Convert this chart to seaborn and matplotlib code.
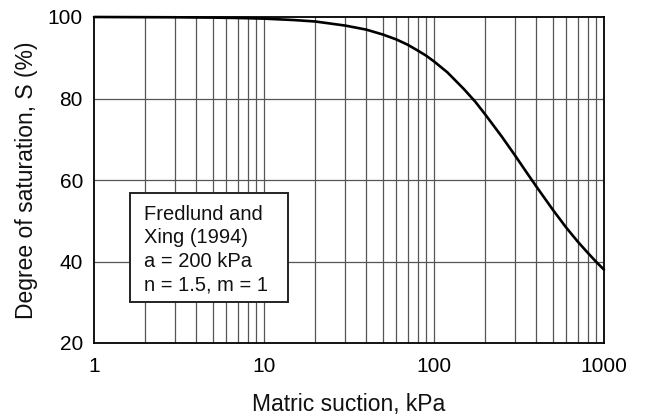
import matplotlib
matplotlib.use("Agg")
import matplotlib.pyplot as plt
import seaborn as sns
import pandas as pd
from matplotlib.patches import Rectangle
from matplotlib.ticker import FixedLocator, NullFormatter

# Values
suction_kpa = [1, 3, 5, 7, 10, 15, 20, 30, 40, 50, 60, 70, 80, 90, 100, 120, 150,
               175, 200, 250, 300, 350, 400, 500, 600, 700, 800, 900, 1000]
saturation_pct = [100.0, 99.93, 99.85, 99.76, 99.6, 99.25, 98.9, 97.9, 96.9, 95.7,
                  94.5, 93.2, 91.8, 90.5, 89.1, 86.4, 82.3, 79.2, 76.1, 70.7, 66.0,
                  61.9, 58.4, 52.7, 48.3, 44.9, 42.2, 39.9, 38.0]
x_tick_labels = ["1", "10", "100", "1000"]
y_ticks = [20, 40, 60, 80, 100]
box_text = "Fredlund and\nXing (1994)\na = 200 kPa\nn = 1.5, m = 1"

sns.set_theme(style="white")
plt.rcParams["font.family"] = ["Liberation Sans", "DejaVu Sans"]

fig = plt.figure(figsize=(6.45, 4.16), dpi=100)
ax = fig.add_axes([94 / 645, 1 - 343 / 416, 510 / 645, 326 / 416])

df = pd.DataFrame({"suction": suction_kpa, "S": saturation_pct})

ax.set_xscale("log")
ax.set_xlim(1, 1000)
ax.set_ylim(20, 100)

# grid
grid_kw = dict(color="#555555", linewidth=0.9, zorder=1)
minors = [m * 10 ** d for d in range(0, 3) for m in range(2, 10)]
for xv in minors + [10, 100]:
    ax.axvline(xv, **grid_kw)
for yv in [40, 60, 80]:
    ax.axhline(yv, **grid_kw)

sns.lineplot(data=df, x="suction", y="S", ax=ax, color="black", linewidth=1.9,
             zorder=3, clip_on=False)

ax.xaxis.set_major_locator(FixedLocator([1, 10, 100, 1000]))
ax.xaxis.set_minor_formatter(NullFormatter())
ax.set_xticklabels(x_tick_labels)
ax.set_yticks(y_ticks)
ax.set_yticklabels([str(v) for v in y_ticks])
ax.tick_params(axis="both", which="both", length=0, labelsize=15, colors="black", pad=8)
ax.tick_params(axis="x", pad=10)

for sp in ax.spines.values():
    sp.set_visible(True)
    sp.set_color("black")
    sp.set_linewidth(1.3)

ax.set_xlabel("Matric suction, kPa", fontsize=16.5, labelpad=12, color="#111111")
ax.set_ylabel("Degree of saturation, S (%)", fontsize=16.5, labelpad=7, color="#111111")

# annotation box
rect = Rectangle((0.0706, 0.126), 0.309, 0.334, transform=ax.transAxes,
                 facecolor="white", edgecolor="#222222", linewidth=1.4, zorder=4)
ax.add_patch(rect)
ax.text(0.098, 0.287, box_text, transform=ax.transAxes, fontsize=14.5,
        va="center", ha="left", linespacing=1.3, zorder=5, color="#111111")

fig.savefig("out.png", dpi=100)
